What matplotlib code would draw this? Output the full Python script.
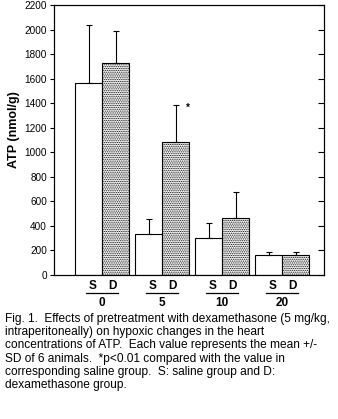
import numpy as np
import matplotlib
matplotlib.use('Agg')
import matplotlib.pyplot as plt

plt.rcParams['font.family'] = ['Liberation Sans', 'DejaVu Sans']
plt.rcParams['hatch.linewidth'] = 0.6

# ---------- data ----------
groups = ['0', '5', '10', '20']
saline_mean = [1565, 334, 301, 160]
saline_sd = [472, 122, 122, 24]
dexa_mean = [1725, 1082, 464, 160]
dexa_sd = [265, 302, 212, 24]
sig_groups = [1]          # groups marked with *

yticks = [0, 200, 400, 600, 800, 1000, 1200, 1400, 1600, 1800, 2000, 2200]

caption = ("Fig. 1.  Effects of pretreatment with dexamethasone (5 mg/kg,\n"
           "intraperitoneally) on hypoxic changes in the heart\n"
           "concentrations of ATP.  Each value represents the mean +/-\n"
           "SD of 6 animals.  *p<0.01 compared with the value in\n"
           "corresponding saline group.  S: saline group and D:\n"
           "dexamethasone group.")

# ---------- figure ----------
fig = plt.figure(figsize=(3.38, 4.19), dpi=100)
ax = fig.add_axes([54 / 338, 144 / 419, 270 / 338, 270 / 419])

x = np.arange(len(groups))
w = 0.45
err_kw = dict(ecolor='black', elinewidth=0.8, capsize=2.2, capthick=0.8)

ax.bar(x - w / 2, saline_mean, w, color='white', edgecolor='black', linewidth=0.8,
       yerr=[np.zeros(len(groups)), saline_sd], error_kw=err_kw, zorder=2)
ax.bar(x + w / 2, dexa_mean, w, color='white', edgecolor='black', linewidth=0.8,
       hatch='.........', yerr=[np.zeros(len(groups)), dexa_sd], error_kw=err_kw, zorder=2)

for g in sig_groups:
    ax.text(g + w / 2 + 0.2, dexa_mean[g] + dexa_sd[g] - 20, '*', fontsize=7,
            fontweight='bold', ha='center', va='center')

ax.set_xlim(-0.8, 3.7)
ax.set_ylim(0, 2200)
ax.set_yticks(yticks)
ax.set_xticks([])
ax.tick_params(axis='y', direction='out', length=3, width=0.8, labelsize=7.2, pad=2)
for sp in ax.spines.values():
    sp.set_linewidth(0.8)

# right side inward ticks
ax2 = ax.twinx()
ax2.set_ylim(0, 2200)
ax2.set_yticks(yticks)
ax2.tick_params(axis='y', direction='in', length=4.3, width=0.8, labelright=False)

ax.set_ylabel('ATP (nmol/g)', fontsize=9, fontweight='bold')
ax.yaxis.set_label_coords(-0.125, 0.537)

# S / D labels with underline and dose label
for i, g in enumerate(groups):
    ax.text(i - 0.15, -90, 'S', ha='center', va='center', fontsize=8.5,
            fontweight='bold', clip_on=False)
    ax.text(i + 0.18, -90, 'D', ha='center', va='center', fontsize=8.5,
            fontweight='bold', clip_on=False)
    ax.plot([i - 0.27, i + 0.27], [-147, -147], color='black', lw=0.9, clip_on=False)
    ax.text(i, -230, g, ha='center', va='center', fontsize=8.5,
            fontweight='bold', clip_on=False)

fig.text(5 / 338, 1 - 313 / 419, caption, ha='left', va='top', fontsize=8.6,
         linespacing=1.13)

fig.savefig('out.png', dpi=100)
